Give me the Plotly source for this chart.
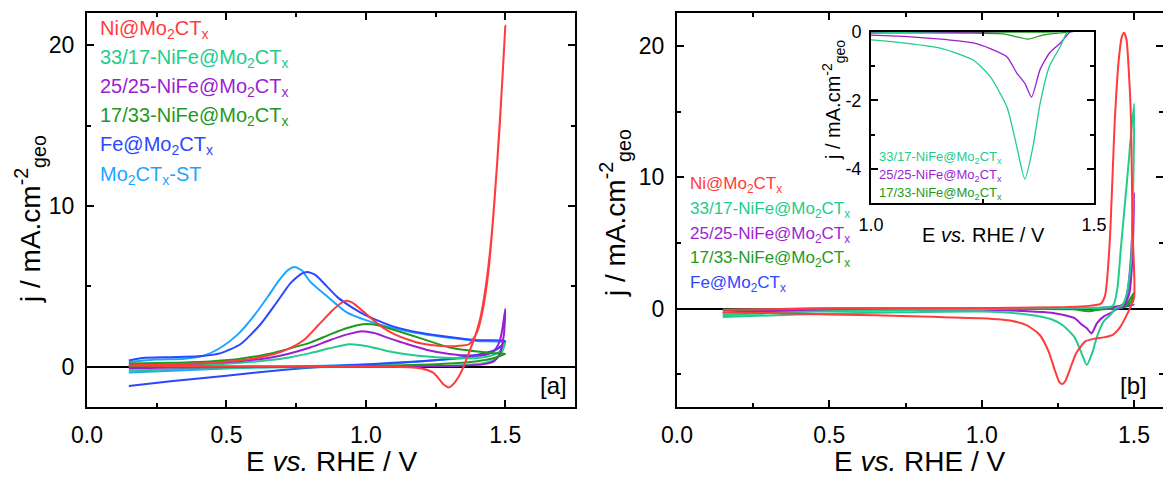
import plotly.graph_objects as go

W, H = 1163, 478

# ---------------- data: panel [a] (closed CV loops: forward then reverse) -------------
NI_A_E = [0.15, 0.3, 0.45, 0.55, 0.65, 0.72, 0.78, 0.83, 0.88, 0.91, 0.93, 0.95, 0.98, 1.02, 1.06, 1.1,
          1.15, 1.2, 1.27, 1.33, 1.37, 1.40, 1.42, 1.44, 1.46, 1.48, 1.50,
          1.49, 1.47, 1.45, 1.43, 1.41, 1.39, 1.37, 1.35, 1.33, 1.31, 1.297, 1.28, 1.26, 1.24, 1.2, 1.1,
          0.9, 0.6, 0.3, 0.15]
NI_A_J = [0.1, 0.15, 0.25, 0.4, 0.7, 1.1, 1.7, 2.6, 3.5, 3.95, 4.1, 4.0, 3.6, 3.0, 2.45, 2.05,
          1.7, 1.45, 1.3, 1.3, 1.4, 2.2, 3.6, 6.0, 10.0, 15.0, 21.2,
          18.0, 12.5, 8.0, 5.0, 3.0, 1.8, 0.9, 0.0, -0.7, -1.15, -1.28, -1.12, -0.7, -0.35, -0.1, 0.0,
          0.02, 0.03, 0.05, 0.08]

T3317_A_E = [0.15, 0.3, 0.45, 0.55, 0.65, 0.73, 0.8, 0.87, 0.94, 1.0, 1.05, 1.1, 1.18, 1.25, 1.32, 1.4,
             1.45, 1.48, 1.5,
             1.49, 1.47, 1.43, 1.35, 1.2, 1.0, 0.6, 0.3, 0.15]
T3317_A_J = [0.0, 0.05, 0.15, 0.25, 0.4, 0.6, 0.85, 1.15, 1.4, 1.3, 1.1, 0.9, 0.7, 0.6, 0.55, 0.55,
             0.7, 0.95, 1.5,
             1.0, 0.55, 0.25, 0.1, 0.05, 0.0, -0.05, -0.15, -0.25]

P2525_A_E = [0.15, 0.3, 0.45, 0.55, 0.65, 0.72, 0.8, 0.87, 0.93, 0.98, 1.03, 1.08, 1.15, 1.22, 1.3, 1.38,
             1.43, 1.46, 1.48, 1.49, 1.5,
             1.495, 1.48, 1.46, 1.42, 1.3, 1.0, 0.6, 0.3, 0.15]
P2525_A_J = [0.1, 0.15, 0.25, 0.35, 0.55, 0.8, 1.2, 1.65, 2.0, 2.2, 2.1, 1.8, 1.4, 1.05, 0.8, 0.7,
             0.75, 1.0, 1.6, 2.4, 3.6,
             2.0, 0.8, 0.35, 0.15, 0.05, 0.0, 0.0, -0.05, -0.1]

G1733_A_E = [0.15, 0.3, 0.45, 0.55, 0.65, 0.72, 0.8, 0.87, 0.93, 0.99, 1.04, 1.1, 1.2, 1.3, 1.4, 1.46, 1.5,
             1.45, 1.4, 1.3, 1.2, 1.0, 0.7, 0.4, 0.15]
G1733_A_J = [0.2, 0.25, 0.35, 0.5, 0.8, 1.1, 1.5, 2.0, 2.4, 2.65, 2.6, 2.3, 1.75, 1.2, 0.95, 0.85, 0.8,
             0.5, 0.35, 0.2, 0.12, 0.05, 0.0, 0.0, 0.05]

FE_A_E = [0.15, 0.2, 0.3, 0.4, 0.48, 0.55, 0.62, 0.68, 0.73, 0.77, 0.79, 0.82, 0.86, 0.9, 0.95, 1.0,
          1.1, 1.2, 1.3, 1.4, 1.5,
          1.47, 1.4, 1.3, 1.2, 1.0, 0.85, 0.7, 0.5, 0.3, 0.15]
FE_A_J = [0.4, 0.55, 0.6, 0.65, 0.85, 1.4, 2.6, 4.0, 5.2, 5.8, 5.9, 5.7, 5.0, 4.3, 3.7, 3.2,
          2.5, 2.1, 1.85, 1.65, 1.6,
          1.1, 0.75, 0.5, 0.35, 0.15, 0.0, -0.2, -0.55, -0.9, -1.2]

ST_A_E = [0.15, 0.25, 0.35, 0.42, 0.48, 0.54, 0.60, 0.65, 0.69, 0.72, 0.745, 0.77, 0.80, 0.86, 0.93,
          1.0, 1.1, 1.2, 1.3, 1.4, 1.5,
          1.45, 1.35, 1.2, 1.1, 0.8, 0.5, 0.15]
ST_A_J = [0.3, 0.45, 0.5, 0.7, 1.2, 2.0, 3.2, 4.4, 5.4, 6.0, 6.2, 6.0, 5.3, 4.4, 3.4,
          2.9, 2.4, 2.05, 1.8, 1.6, 1.5,
          0.9, 0.55, 0.35, 0.2, 0.05, -0.1, -0.35]

# ---------------- data: panel [b] ----------------
NI_B_E = [0.15, 0.3, 0.6, 0.9, 1.1, 1.25, 1.35, 1.39, 1.405, 1.42, 1.437, 1.45, 1.46, 1.467, 1.475,
          1.483, 1.49, 1.495, 1.5,
          1.48, 1.455, 1.43, 1.40, 1.37, 1.34, 1.31, 1.29, 1.275, 1.265, 1.255, 1.24, 1.22, 1.19,
          1.15, 1.1, 1.0, 0.8, 0.5, 0.3, 0.15]
NI_B_J = [-0.1, -0.05, 0.0, 0.0, 0.05, 0.1, 0.2, 0.35, 1.0, 5.0, 14.4, 19.0, 20.7, 21.0, 20.5,
          18.0, 14.4, 6.0, 0.8,
          -0.3, -1.4, -2.0, -2.2, -2.3, -2.5, -3.4, -4.6, -5.5, -5.75, -5.6, -4.7, -3.3, -2.0,
          -1.3, -0.95, -0.75, -0.6, -0.45, -0.35, -0.3]

T3317_B_E = [0.15, 0.3, 0.5, 0.8, 1.1, 1.3, 1.43, 1.445, 1.456, 1.478, 1.5,
             1.497, 1.49, 1.475, 1.46, 1.44, 1.424, 1.40, 1.379, 1.363, 1.345, 1.327, 1.305, 1.267,
             1.229, 1.155, 1.0, 0.7, 0.4, 0.15]
T3317_B_J = [-0.5, -0.35, -0.2, -0.1, 0.0, 0.05, 0.2, 1.5, 4.4, 10.0, 15.6,
             9.0, 3.5, 1.0, 0.2, 0.0, -0.44, -1.0, -2.1, -3.36, -4.3, -3.36, -2.2, -1.3,
             -0.82, -0.47, -0.23, -0.3, -0.45, -0.65]

P2525_B_E = [0.15, 0.4, 0.8, 1.2, 1.4, 1.45, 1.47, 1.48, 1.49, 1.5,
             1.495, 1.485, 1.47, 1.455, 1.446, 1.424, 1.401, 1.379, 1.36, 1.345, 1.327, 1.305, 1.27,
             1.229, 1.15, 1.0, 0.7, 0.4, 0.15]
P2525_B_J = [-0.3, -0.15, -0.05, 0.0, 0.05, 0.15, 0.5, 1.5, 4.0, 8.8,
             4.0, 1.2, 0.3, 0.05, 0.0, -0.33, -0.6, -1.1, -1.9, -1.5, -1.2, -0.73, -0.5,
             -0.32, -0.2, -0.09, -0.12, -0.18, -0.3]

G1733_B_E = [0.15, 0.5, 1.0, 1.3, 1.42, 1.46, 1.48, 1.5,
             1.49, 1.47, 1.45, 1.43, 1.385, 1.352, 1.30, 1.2, 1.0, 0.6, 0.15]
G1733_B_J = [-0.1, 0.0, 0.0, 0.0, 0.02, 0.2, 0.5, 1.2,
             0.5, 0.15, 0.0, -0.02, -0.09, -0.21, -0.06, -0.03, -0.02, -0.05, -0.1]

FE_B_E = [0.15, 0.5, 1.0, 1.4, 1.5, 1.45, 1.2, 0.8, 0.15]
FE_B_J = [-0.1, 0.0, 0.0, 0.05, 0.3, 0.05, 0.0, 0.0, -0.1]

NAMES = ["Ni@Mo<sub>2</sub>CT<sub>x</sub>",
         "33/17-NiFe@Mo<sub>2</sub>CT<sub>x</sub>",
         "25/25-NiFe@Mo<sub>2</sub>CT<sub>x</sub>",
         "17/33-NiFe@Mo<sub>2</sub>CT<sub>x</sub>",
         "Fe@Mo<sub>2</sub>CT<sub>x</sub>",
         "Mo<sub>2</sub>CT<sub>x</sub>-ST"]
COLORS = ["#FF3B3B", "#22CC8C", "#9B1FD1", "#1E9A1E", "#2D46FF", "#1EA5FF"]

A_SERIES = [(NI_A_E, NI_A_J), (T3317_A_E, T3317_A_J), (P2525_A_E, P2525_A_J),
            (G1733_A_E, G1733_A_J), (FE_A_E, FE_A_J), (ST_A_E, ST_A_J)]
B_SERIES = [(NI_B_E, NI_B_J), (T3317_B_E, T3317_B_J), (P2525_B_E, P2525_B_J),
            (G1733_B_E, G1733_B_J), (FE_B_E, FE_B_J)]

X_TICKS = [0.0, 0.5, 1.0, 1.5]
INSET_Y_TICKS = [-4, -2, 0]
INSET_Y_LABELS = ["-4", "-2", "0"]
FONT = "Liberation Sans, Arial, sans-serif"


def px(x):
    return x / W


def py(y):
    return 1 - y / H


fig = go.Figure()

draw_order_a = [5, 4, 1, 2, 3, 0]
for i in draw_order_a:
    e, j = A_SERIES[i]
    fig.add_trace(go.Scatter(x=e, y=j, mode="lines", line=dict(color=COLORS[i], width=2, shape="spline", smoothing=0.6),
                             xaxis="x", yaxis="y", showlegend=False))

draw_order_b = [4, 3, 2, 1, 0]
for i in draw_order_b:
    e, j = B_SERIES[i]
    fig.add_trace(go.Scatter(x=e, y=j, mode="lines", line=dict(color=COLORS[i], width=2, shape="spline", smoothing=0.6),
                             xaxis="x2", yaxis="y2", showlegend=False))

for i in [3, 2, 1]:
    e, j = B_SERIES[i]
    fig.add_trace(go.Scatter(x=e, y=j, mode="lines", line=dict(color=COLORS[i], width=1.3, shape="spline", smoothing=0.6),
                             xaxis="x3", yaxis="y3", showlegend=False))

# dummy trace for right-hand tick axis of panel b
fig.add_trace(go.Scatter(x=[None], y=[None], xaxis="x2", yaxis="y4", showlegend=False, hoverinfo="skip"))

tickfont = dict(family=FONT, size=23, color="black")
common = dict(showline=True, linecolor="black", linewidth=2, ticks="inside", ticklen=7, tickwidth=2,
              tickcolor="black", showgrid=False, zeroline=False, tickfont=tickfont, automargin=False)
minor_common = dict(ticks="inside", ticklen=4, tickwidth=2, tickcolor="black")

ydom = [py(407), py(13)]

fig.update_layout(
    template="none",
    width=W, height=H, margin=dict(l=0, r=0, t=0, b=0, pad=0),
    paper_bgcolor="white", plot_bgcolor="white",
    xaxis=dict(domain=[px(87), px(575)], range=[0, 1.75], anchor="y", mirror="ticks",
               tickvals=X_TICKS, tickformat=".1f",
               minor=dict(dtick=0.25, tick0=0, **minor_common),
               ticklabelstandoff=6, **common),
    yaxis=dict(domain=ydom, range=[-2.5, 22], anchor="x", mirror="ticks", dtick=10, tick0=0,
               minor=dict(dtick=5, tick0=0, **minor_common),
               ticklabelstandoff=6,
               **{**common, "zeroline": True}, zerolinecolor="black", zerolinewidth=1.6),
    xaxis2=dict(domain=[px(677), 1.0], range=[0, 1.595], anchor="y2", mirror="ticks",
                tickvals=X_TICKS, tickformat=".1f",
                minor=dict(dtick=0.25, tick0=0, **minor_common),
                ticklabelstandoff=6, **common),
    yaxis2=dict(domain=ydom, range=[-7.5, 22.5], anchor="x2", mirror=False, dtick=10, tick0=0,
                minor=dict(dtick=5, tick0=0, **minor_common),
                ticklabelstandoff=6,
                **{**common, "zeroline": True}, zerolinecolor="black", zerolinewidth=1.6),
    yaxis4=dict(overlaying="y2", side="right", anchor="x2", range=[-7.5, 22.5], dtick=10, tick0=0,
                showline=False, showticklabels=False, ticks="inside", ticklen=7, tickwidth=2,
                tickcolor="black", showgrid=False, zeroline=False, automargin=False,
                minor=dict(dtick=5, tick0=0, **minor_common)),
    xaxis3=dict(domain=[px(871), px(1094)], range=[1.0, 1.5], anchor="y3", mirror="ticks",
                tickvals=[1.0, 1.5], tickformat=".1f",
                minor=dict(dtick=0.25, tick0=0, **minor_common),
                ticklabelstandoff=4,
                **{**common, "tickfont": dict(family=FONT, size=18, color="black")}),
    yaxis3=dict(domain=[py(203), py(32)], range=[-5, 0], anchor="x3", mirror="ticks",
                tickvals=INSET_Y_TICKS, ticktext=INSET_Y_LABELS,
                minor=dict(dtick=1, tick0=0, **minor_common),
                ticklabelstandoff=4,
                **{**common, "tickfont": dict(family=FONT, size=18, color="black")}),
)

ann = []
# legends
for k in range(6):
    ann.append(dict(x=px(98), y=py(29 + 29.2 * k), text=NAMES[k], font=dict(family=FONT, size=20, color=COLORS[k])))
for k, yy in enumerate([185, 210, 235, 259, 284]):
    ann.append(dict(x=px(688), y=py(yy), text=NAMES[k], font=dict(family=FONT, size=17, color=COLORS[k])))
for k, yy in zip([1, 2, 3], [157, 175, 193]):
    ann.append(dict(x=px(877), y=py(yy), text=NAMES[k], font=dict(family=FONT, size=13, color=COLORS[k])))
for a in ann:
    a.update(xref="paper", yref="paper", xanchor="left", yanchor="middle", showarrow=False)

ytitle = "j / mA.cm<sup>-2</sup><sub>geo</sub>"
xtitle = "E <i>vs.</i> RHE / V"
extra = [
    dict(x=px(331), y=py(461), text=xtitle, font=dict(family=FONT, size=28)),
    dict(x=px(920), y=py(461), text=xtitle, font=dict(family=FONT, size=28)),
    dict(x=px(30), y=py(219), text=ytitle, textangle=-90, font=dict(family=FONT, size=28)),
    dict(x=px(615), y=py(213), text=ytitle, textangle=-90, font=dict(family=FONT, size=28)),
    dict(x=px(983), y=py(235), text=xtitle, font=dict(family=FONT, size=20)),
    dict(x=px(833), y=py(100), text=ytitle, textangle=-90, font=dict(family=FONT, size=20)),
    dict(x=px(553), y=py(385), text="[a]", font=dict(family=FONT, size=24)),
    dict(x=px(1133), y=py(385), text="[b]", font=dict(family=FONT, size=24)),
]
for a in extra:
    a.update(xref="paper", yref="paper", xanchor="center", yanchor="middle", showarrow=False)
    a["font"]["color"] = "black"

fig.update_layout(annotations=ann + extra)

fig.write_html("out.html", config={"displayModeBar": False},
               post_script="document.body.style.margin='0';document.body.style.overflow='hidden';")
